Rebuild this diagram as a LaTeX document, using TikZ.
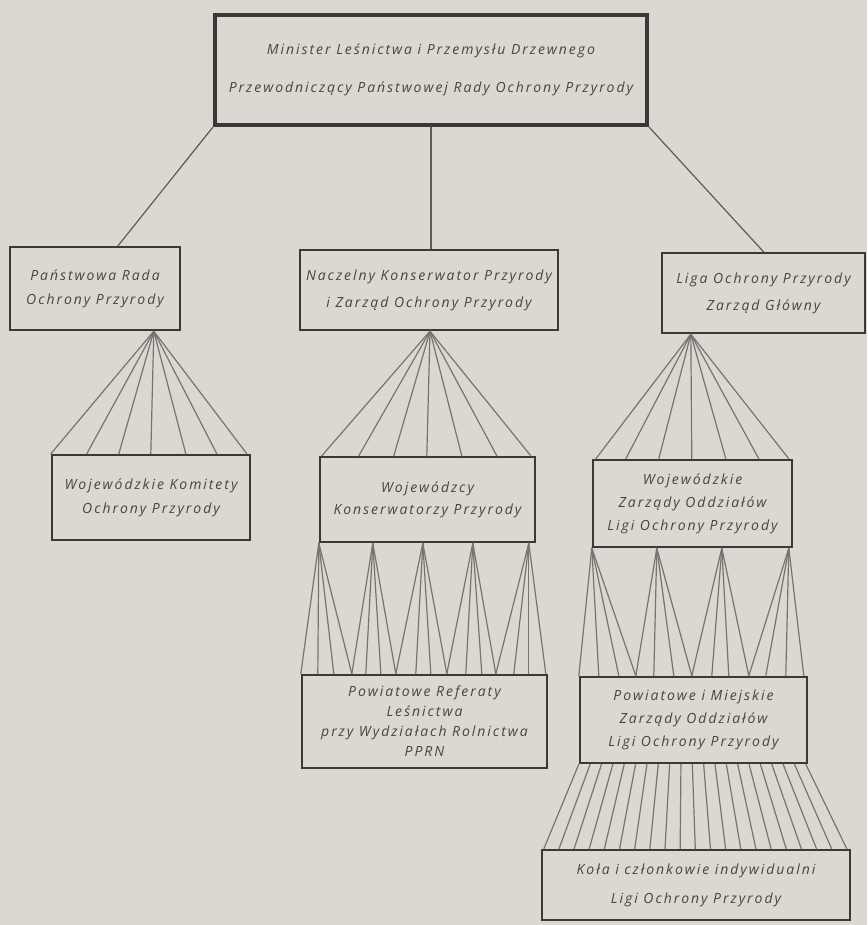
\documentclass[tikz,border=0pt]{standalone}
\usepackage{fontspec}
\newfontfamily\orgfont[LetterSpace=14]{Open Sans}
\usetikzlibrary{calc}
\definecolor{paper}{RGB}{218,216,208}
\definecolor{ink}{RGB}{62,55,55}
\definecolor{inktext}{RGB}{72,68,68}
\definecolor{inkline}{RGB}{95,90,88}
\tikzset{
  orgbox/.style ={rectangle, draw=ink, fill=paper, line width=2.4pt, inner sep=0pt,
                  align=center, text=inktext,
                  font=\orgfont\itshape\fontsize{14}{24}\selectfont},
  orgtop/.style ={orgbox, line width=4pt},
  orglead/.style={font=\orgfont\itshape\fontsize{14}{#1}\selectfont},
  orgline/.style={line width=1.2pt, inkline, line cap=round},
  orgfan/.style ={line width=1.2pt, inkline!85, line cap=round},
}

\begin{document}
\begin{tikzpicture}[x=1pt, y=-1pt]
  \fill[paper] (0,0) rectangle (867,925);
  \useasboundingbox (0,0) rectangle (867,925);
  % level 0
  \node[orgtop, orglead=38, minimum width=432, minimum height=110] (top) at (431,70)
    {Minister Leśnictwa i Przemysłu Drzewnego\\Przewodniczący Państwowej Rady Ochrony Przyrody};
  % level 1
  \node[orgbox, orglead=24, minimum width=170, minimum height=83] (prs) at (95,288.5)
    {Państwowa Rada\\Ochrony Przyrody};
  \node[orgbox, orglead=27, minimum width=258, minimum height=80] (nkp) at (429,290)
    {Naczelny Konserwator Przyrody\\i Zarząd Ochrony Przyrody};
  \node[orgbox, orglead=27, minimum width=203, minimum height=80] (lop) at (763.5,293)
    {Liga Ochrony Przyrody\\Zarząd Główny};
  % level 2
  \node[orgbox, orglead=24, minimum width=198, minimum height=85] (wkop) at (151,497.5)
    {Wojewódzkie Komitety\\Ochrony Przyrody};
  \node[orgbox, orglead=22, minimum width=215, minimum height=85] (wkp) at (427.5,499.5)
    {Wojewódzcy\\Konserwatorzy Przyrody};
  \node[orgbox, orglead=23, minimum width=199, minimum height=87] (wzo) at (692.5,503.5)
    {Wojewódzkie\\Zarządy Oddziałów\\Ligi Ochrony Przyrody};
  % level 3
  \node[orgbox, orglead=20, minimum width=245, minimum height=93] (prl) at (424.5,721.5)
    {Powiatowe Referaty\\Leśnictwa\\przy Wydziałach Rolnictwa\\PPRN};
  \node[orgbox, orglead=23, minimum width=227, minimum height=86] (pmz) at (693.5,720)
    {Powiatowe i Miejskie\\Zarządy Oddziałów\\Ligi Ochrony Przyrody};
  % level 4
  \node[orgbox, orglead=29, minimum width=308, minimum height=70] (kola) at (696,885)
    {Koła i członkowie indywidualni\\Ligi Ochrony Przyrody};

  % minister to the three heads
  \draw[orgline] (top.south west) -- ([xshift=23]prs.north);
  \draw[orgline] (top.south) -- (top.south |- nkp.north);
  \draw[orgline] (top.south east) -- (lop.north);

  % fans to the voivodeship level
  \foreach \dx in {0,36,68,100,135,166,196}
    \draw[orgfan] ([xshift=145]prs.south west) -- ([xshift=\dx]wkop.north west);
  \foreach \dx in {3,40,75,108,143,178,212}
    \draw[orgfan] ([xshift=1]nkp.south) -- ([xshift=\dx]wkp.north west);
  \foreach \dx in {4,34,67,100,134,167,197}
    \draw[orgfan] ([xshift=30]lop.south west) -- ([xshift=\dx]wzo.north west);

  % zig-zag fans to the district level
  \foreach \ax/\ends in {0/{0,17,33,51}, 54/{51,65,80,95}, 104/{95,115,130,146},
                         154/{146,165,181,195}, 210/{195,213,228,245}}
    \foreach \dx in \ends
      \draw[orgfan] ([xshift=\ax]wkp.south west) -- ([xshift=\dx]prl.north west);
  \foreach \ax/\ends in {0/{0,20,40,57}, 65/{57,75,95,113}, 130/{113,133,150,170},
                         197/{170,187,207,225}}
    \foreach \dx in \ends
      \draw[orgfan] ([xshift=\ax]wzo.south west) -- ([xshift=\dx]pmz.north west);

  % circles and members
  \foreach \i in {0,...,20}
    \draw[orgfan] ([xshift=\i*11.35]pmz.south west) -- ([xshift=3+\i*15.15]kola.north west);
\end{tikzpicture}
\end{document}
